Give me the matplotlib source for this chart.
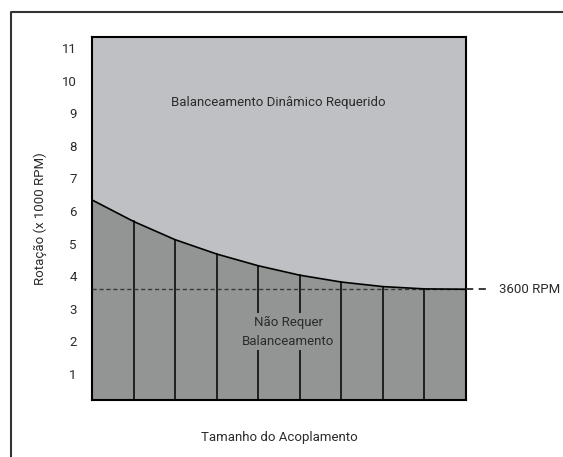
import matplotlib
matplotlib.use("Agg")
import matplotlib.pyplot as plt
from matplotlib.lines import Line2D

plt.rcParams['font.family'] = ['Roboto', 'DejaVu Sans']

# Coupling size sections (9 columns) and the balancing limit curve (x 1000 RPM)
sections = [0, 1, 2, 3, 4, 5, 6, 7, 8, 9]
limit_rpm = [6.34, 5.68, 5.12, 4.68, 4.32, 4.03, 3.82, 3.68, 3.61, 3.6]
threshold_rpm = 3.6
yticks = [1, 2, 3, 4, 5, 6, 7, 8, 9, 10, 11]

light = '#bfc0c3'
dark = '#939595'
ink = '#2b2b2b'

fig = plt.figure(figsize=(5.63, 4.57), dpi=100)
ax = fig.add_axes([92 / 563, 1 - 400 / 457, (466 - 92) / 563, (400 - 37) / 457])

ymin, ymax = 0.2, 11.34
ax.set_xlim(sections[0], sections[-1])
ax.set_ylim(ymin, ymax)
ax.set_facecolor(light)

# Region that does not require balancing
ax.fill_between(sections, ymin, limit_rpm, color=dark, zorder=1, linewidth=0)
ax.plot(sections, limit_rpm, color='black', lw=1.2, zorder=4)

# Column dividers up to the curve
for x, top in zip(sections[1:-1], limit_rpm[1:-1]):
    ax.plot([x, x], [ymin, top], color='black', lw=1.1, zorder=2)

# 3600 RPM threshold
ax.plot([sections[0], sections[-1]], [threshold_rpm, threshold_rpm], color='#3a3a3a',
        lw=1.0, ls=(0, (3, 2)), zorder=3)
ax.plot([sections[-1], sections[-1] + 24 / 41.56], [threshold_rpm, threshold_rpm],
        color=ink, lw=1.3, ls=(0, (4, 3)), clip_on=False, zorder=3)
ax.text(sections[-1] + 33 / 41.56, threshold_rpm, '3600 RPM', fontsize=9.5, color=ink,
        va='center', ha='left')

ax.text(4.49, 9.32, 'Balanceamento Dinâmico Requerido', fontsize=9.5, color=ink,
        ha='center', va='center', zorder=5)
ax.text(4.72, 2.3, 'Não Requer\nBalanceamento', fontsize=9.5, color=ink,
        ha='center', va='center', linespacing=1.6, zorder=5,
        bbox=dict(facecolor=dark, edgecolor='none', pad=2))

ax.set_xticks([])
ax.set_yticks(yticks)
ax.set_yticklabels([str(v) for v in yticks], fontsize=9.5, color=ink)
ax.tick_params(axis='y', length=0, pad=11)
for s in ax.spines.values():
    s.set_linewidth(1.5)
    s.set_color('black')

ax.set_ylabel('Rotação (x 1000 RPM)', fontsize=9.5, color=ink, labelpad=11)
ax.set_xlabel('Tamanho do Acoplamento', fontsize=9.5, color=ink, labelpad=22)

# Outer frame: left and top edges
fig.add_artist(Line2D([11 / 563, 11 / 563, 1.0], [0.0, 1 - 12 / 457, 1 - 12 / 457],
                      transform=fig.transFigure, color='#333333', lw=1.5))

fig.savefig('out.png', dpi=100)
